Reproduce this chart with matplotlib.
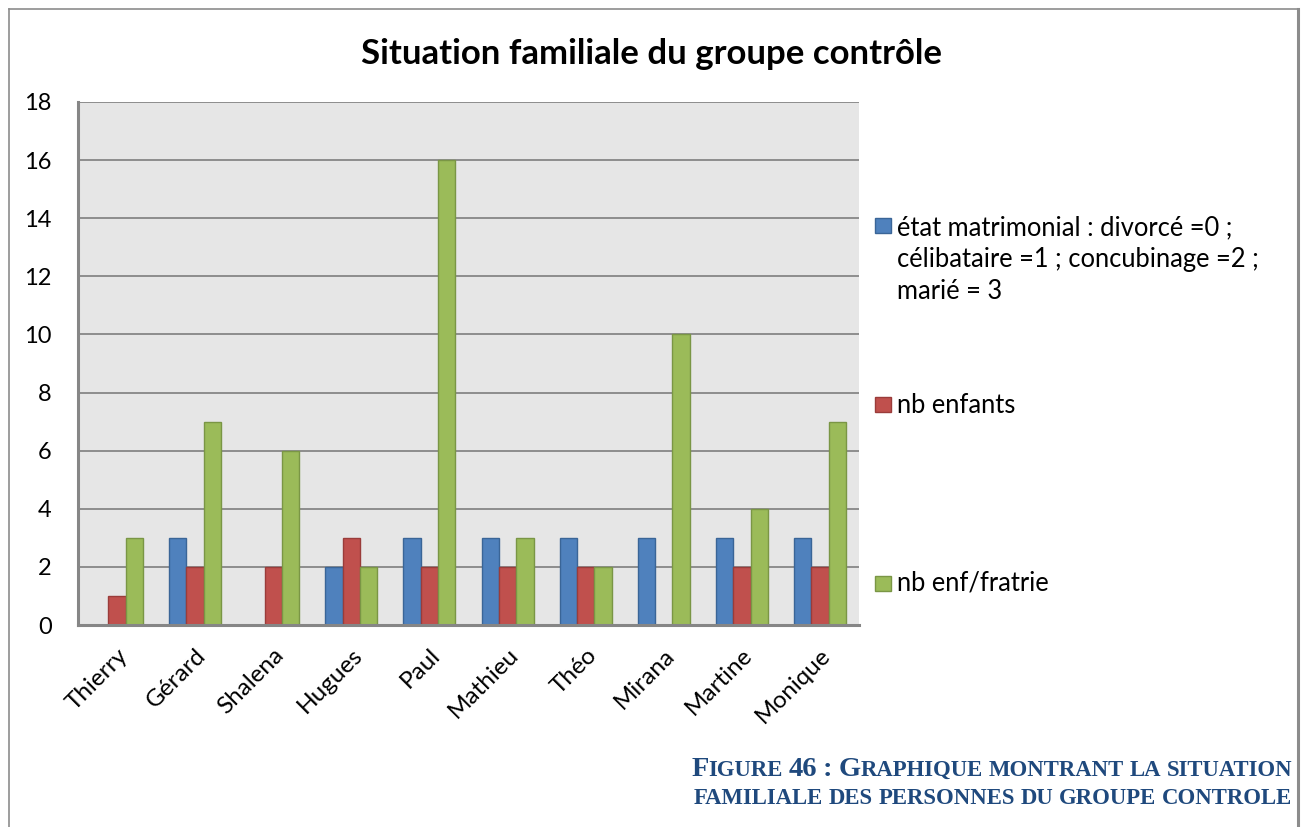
import matplotlib
matplotlib.use("Agg")
import matplotlib.pyplot as plt
import numpy as np
from matplotlib.lines import Line2D
from matplotlib.patches import Rectangle

# ---- data ----
names = ["Thierry", "Gérard", "Shalena", "Hugues", "Paul",
         "Mathieu", "Théo", "Mirana", "Martine", "Monique"]
etat_matrimonial = [0, 3, 0, 2, 3, 3, 3, 3, 3, 3]
nb_enfants = [1, 2, 2, 3, 2, 2, 2, 0, 2, 2]
nb_enf_fratrie = [3, 7, 6, 2, 16, 3, 2, 10, 4, 7]
series_labels = [
    "état matrimonial : divorcé =0 ;\ncélibataire =1 ; concubinage =2 ;\nmarié = 3",
    "nb enfants",
    "nb enf/fratrie",
]
yticks = [0, 2, 4, 6, 8, 10, 12, 14, 16, 18]
title = "Situation familiale du groupe contrôle"
caption_lines = ["Figure 46 : Graphique montrant la situation",
                 "familiale des personnes du groupe controle"]

fills = ["#4F81BD", "#C0504D", "#9BBB59"]
edges = ["#3A6597", "#9A3C3A", "#7A9645"]

W, H = 1303, 827
plt.rcParams['font.family'] = ['Lato', 'DejaVu Sans']
fig = plt.figure(figsize=(W / 100, H / 100), dpi=100)


def fx(px):
    return px / W


def fy(py):
    return 1 - py / H


# outer chart frame (open at the bottom)
frame_c = "#8C8C8C"
fig.add_artist(Line2D([fx(8.5), fx(8.5)], [fy(8.5), 0], color=frame_c, lw=1.2))
fig.add_artist(Line2D([fx(8.5), fx(1298)], [fy(8.5), fy(8.5)], color=frame_c, lw=1.2))
fig.add_artist(Line2D([fx(1298), fx(1298)], [fy(8.5), 0], color=frame_c, lw=2.2))

ax = fig.add_axes([fx(78), fy(625), (859 - 78) / W, (625 - 102) / H])
ax.set_facecolor("#E6E6E6")

x = np.arange(len(names))
bw = 1 / 4.5
for i, vals in enumerate([etat_matrimonial, nb_enfants, nb_enf_fratrie]):
    ax.bar(x + (i - 1) * bw, vals, bw, color=fills[i], edgecolor=edges[i],
           linewidth=1.0, zorder=3)

ax.set_xlim(-0.5, len(names) - 0.5)
ax.set_ylim(0, 18)
ax.set_yticks(yticks)
ax.set_yticklabels([str(v) for v in yticks])
ax.yaxis.grid(True, color="#868686", linewidth=1.3, zorder=1)
ax.set_axisbelow(True)
for s in ["top", "right"]:
    ax.spines[s].set_visible(False)
for s in ["left", "bottom"]:
    ax.spines[s].set_color("#868686")
    ax.spines[s].set_linewidth(2.2)
    ax.spines[s].set_zorder(4)

ax.set_xticks(x)
ax.set_xticklabels(names, rotation=45, ha="right", rotation_mode="anchor")
ax.tick_params(axis="y", length=0, labelsize=17, pad=19)
ax.tick_params(axis="x", length=0, labelsize=17.5, pad=14)

fig.text(0.5, fy(64), title, ha="center", va="baseline",
         fontsize=25, fontweight="bold", color="black")

# legend
leg_sq = [(218, 233), (397, 412), (576, 591)]
leg_base = [235, 413, 590]
for i, lab in enumerate(series_labels):
    y0, y1 = leg_sq[i]
    fig.add_artist(Rectangle((fx(875), fy(y1)), 16 / W, (y1 - y0) / H,
                             facecolor=fills[i], edgecolor=edges[i], lw=1.0))
    for j, line in enumerate(lab.split("\n")):
        fig.text(fx(897), fy(leg_base[i] + j * 32), line, ha="left",
                 va="baseline", fontsize=18.4, color="black")

# caption in small capitals, right aligned
cap_color = "#1F497D"
big, small = 20.5, 16.4
renderer = fig.canvas.get_renderer()


def runs_for(line):
    runs = []
    for k, word in enumerate(line.split(" ")):
        if k:
            runs.append((" ", small))
        cur, cur_size = "", None
        for ch in word:
            size = small if ch.islower() else big
            txt = ch.upper()
            if size != cur_size and cur:
                runs.append((cur, cur_size))
                cur = ""
            cur += txt
            cur_size = size
        if cur:
            runs.append((cur, cur_size))
    return runs


def draw_caption(line, right_px, base_px):
    runs = runs_for(line)
    arts = []
    for txt, size in runs:
        t = fig.text(0, fy(base_px), txt, ha="left", va="baseline",
                     fontsize=size, fontweight="bold", color=cap_color,
                     family="Liberation Serif")
        arts.append(t)
    widths = []
    for t, (txt, size) in zip(arts, runs):
        if txt == " ":
            widths.append(size * 0.25 * 100 / 72)
        else:
            widths.append(t.get_window_extent(renderer).width)
    xpos = right_px - sum(widths)
    for t, w in zip(arts, widths):
        t.set_x(fx(xpos))
        xpos += w


draw_caption(caption_lines[0], 1292, 776)
draw_caption(caption_lines[1], 1292, 804)

fig.savefig("out.png", dpi=100)
